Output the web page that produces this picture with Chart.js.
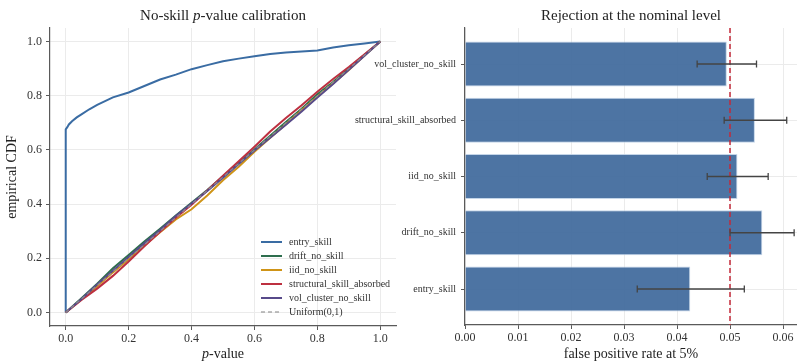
<!DOCTYPE html>
<meta charset="utf-8">
<style>
html, body {
  margin: 0;
  background: #fff;
}

.wrap {
  position: relative;
  width: 797px;
  height: 361px;
  overflow: hidden;
}

.wrap canvas {
  position: absolute;
  top: 0;
}

#ecdf { left: 0; }
#fpr { left: 340px; }
</style>
<body>
<div class="wrap">
  <canvas id="ecdf" width="400" height="361"></canvas>
  <canvas id="fpr" width="457" height="361"></canvas>
</div>

<script src="https://cdn.jsdelivr.net/npm/chart.js@4/dist/chart.umd.min.js"></script>
<script>
"use strict";

// left panel: empirical CDF of p-values
var entryP   = [0, 0, 0.005, 0.01, 0.02, 0.035, 0.05, 0.075, 0.1, 0.15, 0.2, 0.25, 0.3, 0.35, 0.4, 0.45, 0.5, 0.55, 0.6, 0.65, 0.7, 0.75, 0.8, 0.85, 0.9, 0.95, 1];
var entryCdf = [0, 0.676, 0.684, 0.694, 0.706, 0.72, 0.731, 0.75, 0.766, 0.794, 0.812, 0.836, 0.86, 0.878, 0.898, 0.913, 0.927, 0.937, 0.946, 0.954, 0.96, 0.963, 0.967, 0.978, 0.986, 0.993, 1];

var pGrid         = [0, 0.05, 0.1, 0.15, 0.2, 0.25, 0.3, 0.35, 0.4, 0.45, 0.5, 0.55, 0.6, 0.65, 0.7, 0.75, 0.8, 0.85, 0.9, 0.95, 1];
var driftCdf      = [0, 0.052, 0.106, 0.163, 0.212, 0.262, 0.309, 0.358, 0.405, 0.452, 0.503, 0.552, 0.601, 0.652, 0.703, 0.752, 0.805, 0.851, 0.902, 0.951, 1];
var iidCdf        = [0, 0.048, 0.097, 0.148, 0.196, 0.247, 0.296, 0.343, 0.381, 0.432, 0.488, 0.538, 0.593, 0.645, 0.695, 0.746, 0.796, 0.845, 0.895, 0.948, 1];
var structuralCdf = [0, 0.046, 0.088, 0.135, 0.188, 0.244, 0.298, 0.35, 0.398, 0.45, 0.505, 0.558, 0.612, 0.668, 0.718, 0.765, 0.815, 0.862, 0.906, 0.953, 1];
var volCdf        = [0, 0.05, 0.103, 0.154, 0.205, 0.255, 0.304, 0.356, 0.402, 0.448, 0.497, 0.548, 0.598, 0.645, 0.693, 0.742, 0.793, 0.843, 0.896, 0.948, 1];
var uniformP      = [0, 1];

var axisTicks = [0, 0.2, 0.4, 0.6, 0.8, 1.0];

// right panel: rejection rate at 5%, bottom to top
var scenarios = ["entry_skill", "drift_no_skill", "iid_no_skill", "structural_skill_absorbed", "vol_cluster_no_skill"];
var fpr       = [0.0425, 0.0561, 0.0514, 0.0547, 0.0494];
var ciLow     = [0.0325, 0.0500, 0.0457, 0.0489, 0.0438];
var ciHigh    = [0.0527, 0.0621, 0.0572, 0.0607, 0.0550];
var nominalLevel = 0.05;
var fprTicks  = [0, 0.01, 0.02, 0.03, 0.04, 0.05, 0.06];

var SERIF = '"Liberation Serif", "DejaVu Serif", serif';
var GRID = "#ebebeb";
var SPINE = "#5a5a5a";

Chart.defaults.font.family = SERIF;
Chart.defaults.color = "#333";

function pts(xs, ys) {
  return xs.map(function (x, i) { return { x: x, y: ys[i] }; });
}

// draw a line of text made of plain and italic parts, centred on cx
function drawParts(ctx, parts, size, cx, cy) {
  var widths = parts.map(function (p) {
    ctx.font = (p.italic ? "italic " : "") + size + "px " + SERIF;
    return ctx.measureText(p.text).width;
  });
  var total = widths.reduce(function (a, b) { return a + b; }, 0);
  var x = cx - total / 2;
  ctx.fillStyle = "#222";
  ctx.textBaseline = "middle";
  ctx.textAlign = "left";
  parts.forEach(function (p, i) {
    ctx.font = (p.italic ? "italic " : "") + size + "px " + SERIF;
    ctx.fillText(p.text, x, cy);
    x += widths[i];
  });
}

var labelsPlugin = {
  id: "labels",
  afterDraw: function (chart, args, opts) {
    var ctx = chart.ctx, a = chart.chartArea, cx = (a.left + a.right) / 2;
    ctx.save();
    drawParts(ctx, opts.title, 15, cx, 16);
    drawParts(ctx, opts.xTitle, 14, cx, 354);
    if (opts.yTitle) {
      ctx.translate(12, (a.top + a.bottom) / 2);
      ctx.rotate(-Math.PI / 2);
      drawParts(ctx, [{ text: opts.yTitle }], 14, 0, 0);
    }
    ctx.restore();
  }
};

var legendPlugin = {
  id: "innerLegend",
  afterDraw: function (chart) {
    var ctx = chart.ctx, a = chart.chartArea;
    var sets = chart.data.datasets;
    var x0 = a.right - 135;
    ctx.save();
    ctx.font = "10px " + SERIF;
    ctx.textBaseline = "middle";
    ctx.textAlign = "left";
    sets.forEach(function (ds, i) {
      var y = a.bottom - 14 - (sets.length - 1 - i) * 14;
      ctx.strokeStyle = ds.borderColor;
      ctx.lineWidth = ds.borderWidth;
      ctx.setLineDash(ds.borderDash || []);
      ctx.beginPath();
      ctx.moveTo(x0, y);
      ctx.lineTo(x0 + 21, y);
      ctx.stroke();
      ctx.fillStyle = "#333";
      ctx.fillText(ds.label, x0 + 28, y);
    });
    ctx.restore();
  }
};

function line(label, data, color, order) {
  return {
    label: label,
    data: data,
    borderColor: color,
    borderWidth: 2,
    pointRadius: 0,
    showLine: true,
    order: order
  };
}

new Chart(document.getElementById("ecdf"), {
  type: "scatter",
  data: {
    datasets: [
      line("entry_skill", pts(entryP, entryCdf), "#3a6ca3", 5),
      line("drift_no_skill", pts(pGrid, driftCdf), "#2e6e4e", 4),
      line("iid_no_skill", pts(pGrid, iidCdf), "#cf9417", 3),
      line("structural_skill_absorbed", pts(pGrid, structuralCdf), "#bd3040", 2),
      line("vol_cluster_no_skill", pts(pGrid, volCdf), "#574a8a", 1),
      {
        label: "Uniform(0,1)",
        data: pts(uniformP, uniformP),
        borderColor: "rgba(150,150,150,0.8)",
        borderWidth: 1.3,
        borderDash: [4, 3],
        pointRadius: 0,
        showLine: true,
        order: 0
      }
    ]
  },
  options: {
    responsive: false,
    animation: false,
    devicePixelRatio: 1,
    layout: { padding: { top: 28, right: 4, left: 0, bottom: 0 } },
    plugins: {
      legend: { display: false },
      tooltip: { enabled: false },
      labels: {
        title: [{ text: "No-skill " }, { text: "p", italic: true }, { text: "-value calibration" }],
        xTitle: [{ text: "p", italic: true }, { text: "-value" }],
        yTitle: "empirical CDF"
      }
    },
    scales: {
      x: {
        type: "linear",
        min: -0.05,
        max: 1.05,
        afterFit: function (s) { s.height = 35; },
        afterBuildTicks: function (s) { s.ticks = axisTicks.map(function (v) { return { value: v }; }); },
        grid: { color: GRID, tickColor: SPINE, tickLength: 4 },
        border: { color: SPINE, width: 1.2 },
        ticks: { font: { size: 12 }, padding: 2, maxRotation: 0, callback: function (v) { return v.toFixed(1); } }
      },
      y: {
        min: -0.05,
        max: 1.05,
        afterFit: function (s) { s.width = 50; },
        afterBuildTicks: function (s) { s.ticks = axisTicks.map(function (v) { return { value: v }; }); },
        grid: { color: GRID, tickColor: SPINE, tickLength: 4 },
        border: { color: SPINE, width: 1.2 },
        ticks: { font: { size: 12 }, padding: 4, callback: function (v) { return v.toFixed(1); } }
      }
    }
  },
  plugins: [labelsPlugin, legendPlugin]
});

var errorBarPlugin = {
  id: "errorBars",
  afterDatasetsDraw: function (chart) {
    var ctx = chart.ctx, a = chart.chartArea;
    var xs = chart.scales.x, ys = chart.scales.y;
    ctx.save();
    // nominal level reference
    var xn = xs.getPixelForValue(nominalLevel);
    ctx.strokeStyle = "#c42a3a";
    ctx.lineWidth = 1.5;
    ctx.setLineDash([5, 3]);
    ctx.beginPath();
    ctx.moveTo(xn, a.top);
    ctx.lineTo(xn, a.bottom);
    ctx.stroke();
    ctx.setLineDash([]);
    // confidence intervals
    ctx.strokeStyle = "#444";
    ctx.lineWidth = 1.3;
    scenarios.forEach(function (s, i) {
      var y = ys.getPixelForValue(i);
      var x1 = xs.getPixelForValue(ciLow[i]);
      var x2 = xs.getPixelForValue(ciHigh[i]);
      ctx.beginPath();
      ctx.moveTo(x1, y); ctx.lineTo(x2, y);
      ctx.moveTo(x1, y - 3.5); ctx.lineTo(x1, y + 3.5);
      ctx.moveTo(x2, y - 3.5); ctx.lineTo(x2, y + 3.5);
      ctx.stroke();
    });
    ctx.restore();
  }
};

new Chart(document.getElementById("fpr"), {
  type: "bar",
  data: {
    datasets: [{
      label: "false positive rate",
      data: fpr.map(function (v, i) { return { x: v, y: i }; }),
      backgroundColor: "rgba(62,104,155,0.92)",
      borderColor: "rgba(190,208,230,0.9)",
      borderWidth: 1,
      categoryPercentage: 0.8,
      barPercentage: 1.0
    }]
  },
  options: {
    indexAxis: "y",
    responsive: false,
    animation: false,
    devicePixelRatio: 1,
    layout: { padding: { top: 28, right: 0, left: 0, bottom: 0 } },
    plugins: {
      legend: { display: false },
      tooltip: { enabled: false },
      labels: {
        title: [{ text: "Rejection at the nominal level" }],
        xTitle: [{ text: "false positive rate at 5%" }]
      }
    },
    scales: {
      x: {
        type: "linear",
        min: 0,
        max: 0.06264,
        afterFit: function (s) { s.height = 36; },
        afterBuildTicks: function (s) { s.ticks = fprTicks.map(function (v) { return { value: v }; }); },
        grid: { color: GRID, tickColor: SPINE, tickLength: 4 },
        border: { color: SPINE, width: 1.2 },
        ticks: { font: { size: 12 }, padding: 2, maxRotation: 0, callback: function (v) { return v.toFixed(2); } }
      },
      y: {
        type: "linear",
        offset: false,
        min: -0.64,
        max: 4.64,
        afterFit: function (s) { s.width = 125; },
        afterBuildTicks: function (s) { s.ticks = scenarios.map(function (n, i) { return { value: i }; }); },
        grid: { color: GRID, tickColor: SPINE, tickLength: 4, offset: false },
        border: { color: SPINE, width: 1.2 },
        ticks: { font: { size: 10 }, padding: 5, callback: function (v) { return scenarios[v]; } }
      }
    }
  },
  plugins: [labelsPlugin, errorBarPlugin]
});
</script>
</body>
